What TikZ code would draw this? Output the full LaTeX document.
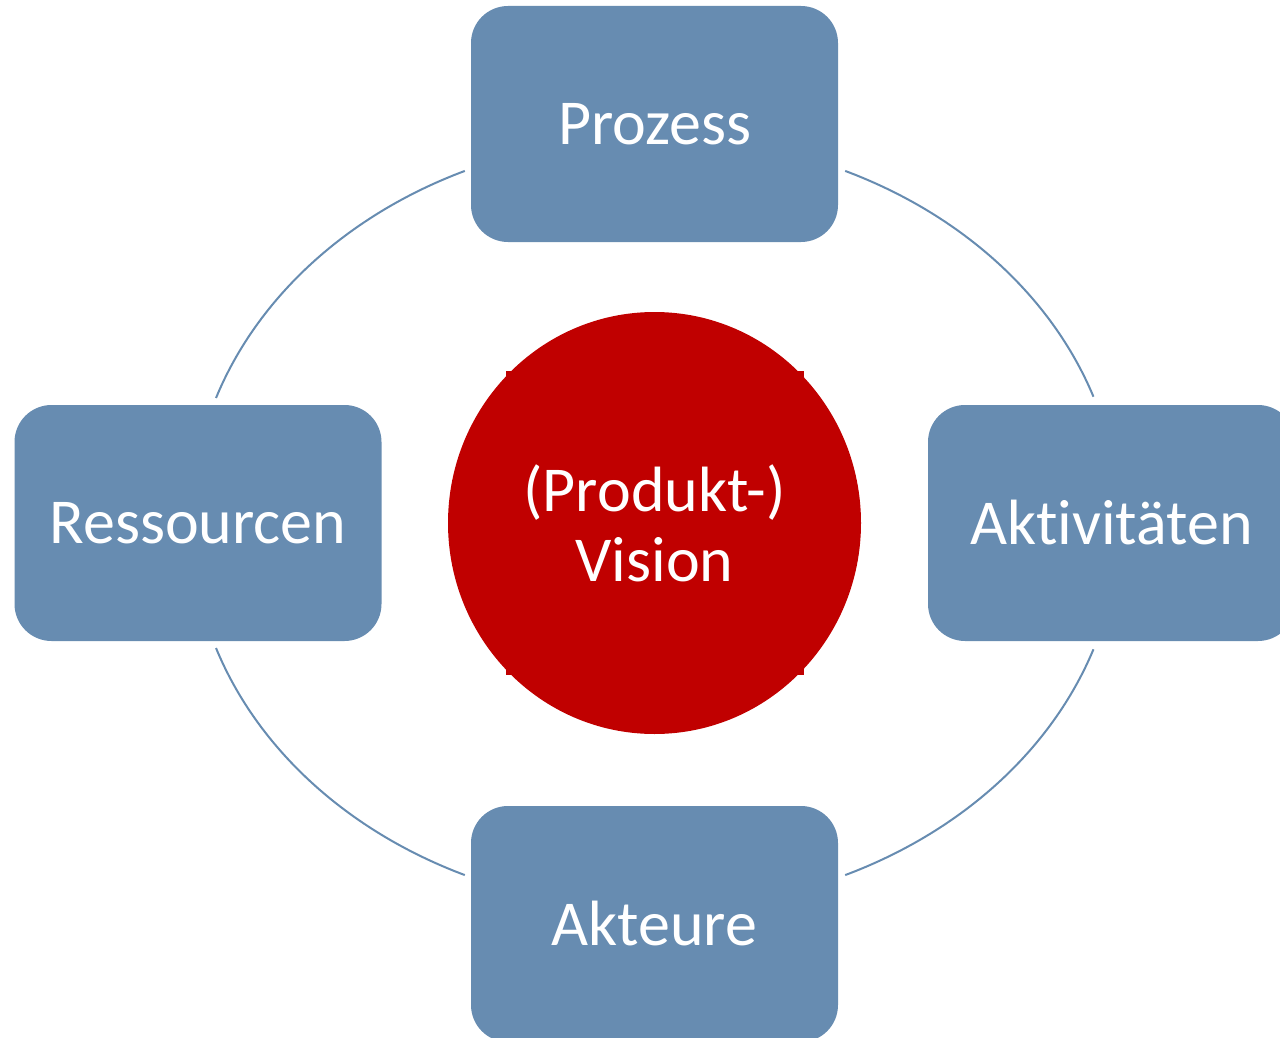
\documentclass[tikz,border=0pt]{standalone}
\usepackage{fontspec}
\setmainfont{Carlito}[Ligatures=NoCommon]
\usetikzlibrary{calc,shapes.geometric}
\definecolor{boxblue}{RGB}{103,140,177}
\definecolor{visionred}{RGB}{192,0,0}
\tikzset{
  box/.style={fill=boxblue, draw=none, rounded corners=37pt, minimum width=367pt, minimum height=236pt, inner sep=0pt, text=white, font=\fontsize{64}{70}\selectfont},
  vision/.style={ellipse, fill=visionred, draw=none, minimum width=413pt, minimum height=422pt, inner sep=0pt, text=white, align=center, font=\fontsize{64}{70}\selectfont},
  arcline/.style={draw=boxblue, line width=2pt},
  tick/.style={fill=visionred, draw=none}
}
\begin{document}
\begin{tikzpicture}[x=1pt,y=-1pt]
\useasboundingbox (0,0) rectangle (1280,1038);
\clip (0,0) rectangle (1280,1038);
\coordinate (c) at (655,523);
% arcs
\coordinate (a1) at ($(c)+(114.2:464pt and 386pt)$);
\coordinate (a2) at ($(c)+(198.9:464pt and 386pt)$);
\coordinate (a3) at ($(c)+(294.2:464pt and 386pt)$);
\coordinate (a4) at ($(c)+(19.1:464pt and 386pt)$);
\draw[arcline] (a1) arc[start angle=114.2, end angle=161.1, x radius=464pt, y radius=386pt];
\draw[arcline] (a2) arc[start angle=198.9, end angle=245.8, x radius=464pt, y radius=386pt];
\draw[arcline] (a3) arc[start angle=294.2, end angle=340.9, x radius=464pt, y radius=386pt];
\draw[arcline] (a4) arc[start angle=19.1, end angle=65.8, x radius=464pt, y radius=386pt];
% boxes
\node[box] (prozess) at (654.5,124) {Prozess};
\node[box] (ressourcen) at (198,523) {Ressourcen};
\node[box] (aktiv) at (1111.5,523) {Aktivitäten};
\node[box] (akteure) at (654.5,924) {Akteure};
% center
\node[vision] (vis) at (654.5,523) {(Produkt-)\\Vision};
\fill[tick] (506,371) rectangle (512,377);
\fill[tick] (798,371) rectangle (804,377);
\fill[tick] (506,669) rectangle (512,675);
\fill[tick] (798,669) rectangle (804,675);
\end{tikzpicture}
\end{document}
